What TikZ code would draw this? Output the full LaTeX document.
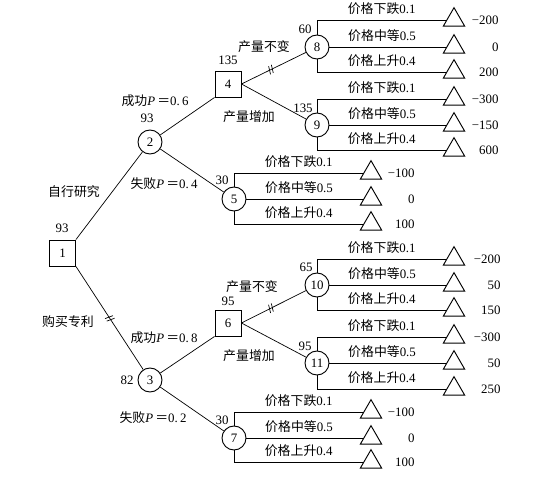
\documentclass[tikz,border=0pt]{standalone}
\usepackage{fontspec}
\setmainfont{Liberation Serif}
\newfontfamily\cjk{Noto Sans CJK SC}
\usetikzlibrary{shapes.geometric,decorations.markings}

\tikzset{
  decision/.style={rectangle, draw, line width=0.8pt, minimum size=0.78cm, inner sep=0pt},
  chance/.style={circle, draw, line width=0.8pt, minimum size=0.72cm, inner sep=0pt},
  leaf/.style={regular polygon, regular polygon sides=3, draw, line width=0.8pt,
    minimum size=0.74cm, inner sep=0pt},
  val/.style={inner sep=1pt},
  tag/.style={inner sep=1pt},
  pruned/.style={postaction={decorate, decoration={markings, mark=at position #1 with
    {\draw[line width=0.6pt] (-1.6pt,-3.5pt) -- (0pt,3.5pt) (1pt,-3.5pt) -- (2.6pt,3.5pt);}}}},
  pruned/.default=0.5
}

\begin{document}
\begin{tikzpicture}[x=0.03cm, y=-0.03cm, line width=0.6pt, font=\fontsize{11}{13}\selectfont]
  \useasboundingbox (0,0) rectangle (538,481);

  \node[decision] (n1) at (62.5,253) {1};
  \node[chance] (n2) at (150,142) {2};
  \node[chance] (n3) at (150,380) {3};
  \node[decision] (n4) at (228,84) {4};
  \node[chance] (n5) at (234,199) {5};
  \node[decision] (n6) at (228,323) {6};
  \node[chance] (n7) at (234,438) {7};
  \node[chance] (n8) at (317,47) {8};
  \node[chance] (n9) at (317,125) {9};
  \node[chance] (n10) at (317,285) {10};
  \node[chance] (n11) at (317,363) {11};

  \node[val] (v1) at (62,228) {93};
  \node[val] (v2) at (147,118) {93};
  \node[val] (v3) at (127,380) {82};
  \node[val] (v4) at (228,60) {135};
  \node[val] (v5) at (222,180) {30};
  \node[val] (v6) at (228,301) {95};
  \node[val] (v7) at (222,420) {30};
  \node[val] (v8) at (305,29) {60};
  \node[val] (v9) at (303,108) {135};
  \node[val] (v10) at (306,267) {65};
  \node[val] (v11) at (305,346) {95};

  \draw (n1.north east) -- (n2);
  \draw[pruned] (n1.south east) -- (n3);
  \draw (n2) -- (n4.south west);
  \draw (n2) -- (n5);
  \draw (n3) -- (n6.south west);
  \draw (n3) -- (n7);
  \draw[pruned=0.45] (n4.east) -- (n8);
  \draw (n4.east) -- (n9);
  \draw[pruned=0.45] (n6.east) -- (n10);
  \draw (n6.east) -- (n11);

  \node[tag] (e12) at (74,192) {\cjk 自行研究};
  \node[tag] (e13) at (68,322) {\cjk 购买专利};
  \node[tag] (e24) at (155,101) {{\cjk 成功}\textit{P}\,{\cjk ＝}0.\,6};
  \node[tag] (e25) at (164,184) {{\cjk 失败}\textit{P}\,{\cjk ＝}0.\,4};
  \node[tag] (e36) at (164,338) {{\cjk 成功}\textit{P}\,{\cjk ＝}0.\,8};
  \node[tag] (e37) at (153,418) {{\cjk 失败}\textit{P}\,{\cjk ＝}0.\,2};
  \node[tag] (e48) at (264,47) {\cjk 产量不变};
  \node[tag] (e49) at (249,117) {\cjk 产量增加};
  \node[tag] (e610) at (252,287) {\cjk 产量不变};
  \node[tag] (e611) at (249,356) {\cjk 产量增加};

  \node[leaf] (t8a) at (454,20) {};
  \node[leaf] (t8b) at (454,47) {};
  \node[leaf] (t8c) at (454,72) {};
  \node[leaf] (t9a) at (454,99) {};
  \node[leaf] (t9b) at (454,125) {};
  \node[leaf] (t9c) at (454,150) {};
  \node[leaf] (t5a) at (371,173) {};
  \node[leaf] (t5b) at (371,199) {};
  \node[leaf] (t5c) at (371,224) {};
  \node[leaf] (t10a) at (454,259) {};
  \node[leaf] (t10b) at (454,285) {};
  \node[leaf] (t10c) at (454,310) {};
  \node[leaf] (t11a) at (454,337) {};
  \node[leaf] (t11b) at (454,363) {};
  \node[leaf] (t11c) at (454,389) {};
  \node[leaf] (t7a) at (371,412) {};
  \node[leaf] (t7b) at (371,438) {};
  \node[leaf] (t7c) at (371,462) {};

  \draw (n8.north) |- node[pos=0.75, above=1pt] {{\cjk 价格下跌}0.1} (t8a);
  \draw (n8) -- node[pos=0.45, above=1pt] {{\cjk 价格中等}0.5} (t8b);
  \draw (n8.south) |- node[pos=0.75, above=1pt] {{\cjk 价格上升}0.4} (t8c);
  \draw (n9.north) |- node[pos=0.75, above=1pt] {{\cjk 价格下跌}0.1} (t9a);
  \draw (n9) -- node[pos=0.45, above=1pt] {{\cjk 价格中等}0.5} (t9b);
  \draw (n9.south) |- node[pos=0.75, above=1pt] {{\cjk 价格上升}0.4} (t9c);
  \draw (n5.north) |- node[pos=0.75, above=1pt] {{\cjk 价格下跌}0.1} (t5a);
  \draw (n5) -- node[pos=0.45, above=1pt] {{\cjk 价格中等}0.5} (t5b);
  \draw (n5.south) |- node[pos=0.75, above=1pt] {{\cjk 价格上升}0.4} (t5c);
  \draw (n10.north) |- node[pos=0.75, above=1pt] {{\cjk 价格下跌}0.1} (t10a);
  \draw (n10) -- node[pos=0.45, above=1pt] {{\cjk 价格中等}0.5} (t10b);
  \draw (n10.south) |- node[pos=0.75, above=1pt] {{\cjk 价格上升}0.4} (t10c);
  \draw (n11.north) |- node[pos=0.75, above=1pt] {{\cjk 价格下跌}0.1} (t11a);
  \draw (n11) -- node[pos=0.45, above=1pt] {{\cjk 价格中等}0.5} (t11b);
  \draw (n11.south) |- node[pos=0.75, above=1pt] {{\cjk 价格上升}0.4} (t11c);
  \draw (n7.north) |- node[pos=0.75, above=1pt] {{\cjk 价格下跌}0.1} (t7a);
  \draw (n7) -- node[pos=0.45, above=1pt] {{\cjk 价格中等}0.5} (t7b);
  \draw (n7.south) |- node[pos=0.75, above=1pt] {{\cjk 价格上升}0.4} (t7c);

  \node[val, anchor=east] (r8a) at (500,20) {−200};
  \node[val, anchor=east] (r8b) at (500,47) {0};
  \node[val, anchor=east] (r8c) at (500,72) {200};
  \node[val, anchor=east] (r9a) at (500,99) {−300};
  \node[val, anchor=east] (r9b) at (500,125) {−150};
  \node[val, anchor=east] (r9c) at (500,150) {600};
  \node[val, anchor=east] (r5a) at (416,173) {−100};
  \node[val, anchor=east] (r5b) at (416,199) {0};
  \node[val, anchor=east] (r5c) at (416,224) {100};
  \node[val, anchor=east] (r10a) at (502,259) {−200};
  \node[val, anchor=east] (r10b) at (502,285) {50};
  \node[val, anchor=east] (r10c) at (502,310) {150};
  \node[val, anchor=east] (r11a) at (502,337) {−300};
  \node[val, anchor=east] (r11b) at (502,363) {50};
  \node[val, anchor=east] (r11c) at (502,389) {250};
  \node[val, anchor=east] (r7a) at (416,412) {−100};
  \node[val, anchor=east] (r7b) at (416,438) {0};
  \node[val, anchor=east] (r7c) at (416,462) {100};
\end{tikzpicture}
\end{document}
